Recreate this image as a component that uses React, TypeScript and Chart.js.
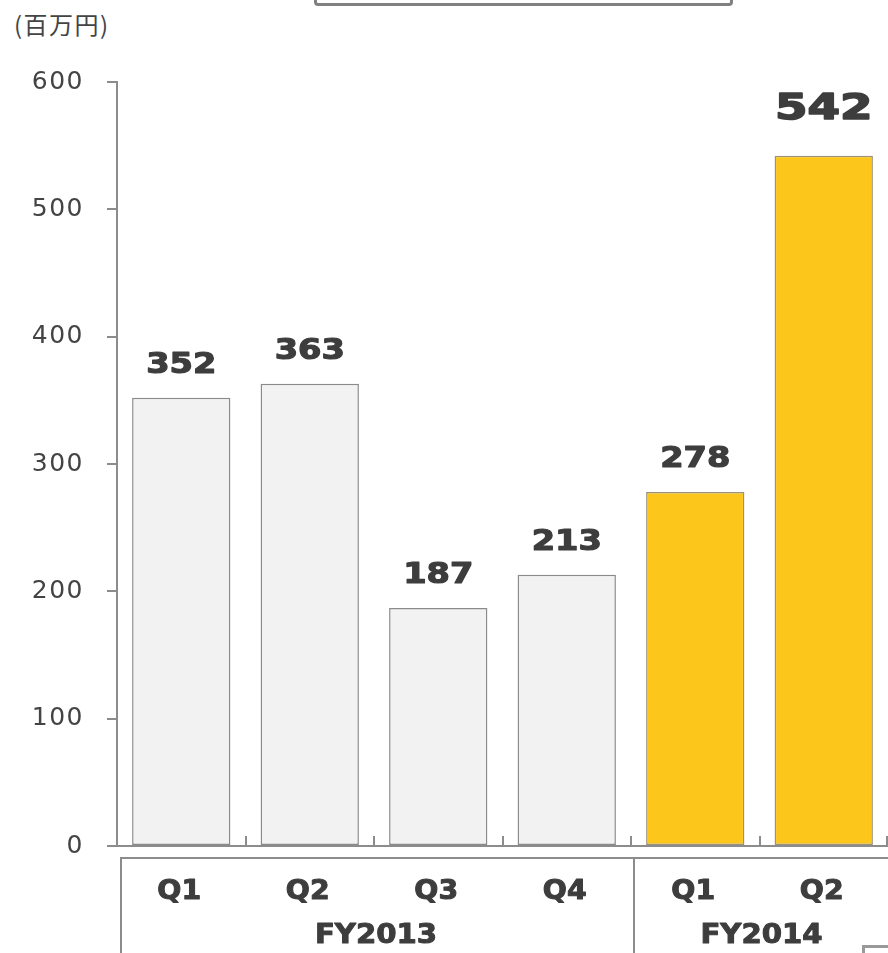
import React, { useEffect, useRef } from "react";
import { Chart, registerables } from "chart.js";

Chart.register(...registerables);

// ---- data ----
const quarterLabels = ["Q1", "Q2", "Q3", "Q4", "Q1", "Q2"];
const fiscalYears = ["FY2013", "FY2014"];
const quartersPerYear = [4, 2];
const revenue = [352, 363, 187, 213, 278, 542];
const highlighted = [false, false, false, false, true, true];
const emphasized = [false, false, false, false, false, true];
const yMin = 0;
const yMax = 600;
const yStep = 100;
const unitLabel = "(百万円)";

const GRAY_FILL = "#f2f2f2";
const YELLOW_FILL = "#fdc61a";
const LINE = "#8c8c8c";
const TEXT = "#3d3d3d";

function drawScaledText(
  ctx: CanvasRenderingContext2D,
  text: string,
  x: number,
  y: number,
  sx: number,
  stroke: number
) {
  ctx.save();
  ctx.translate(x, y);
  ctx.scale(sx, 1);
  if (stroke > 0) {
    ctx.lineWidth = stroke;
    ctx.strokeStyle = ctx.fillStyle as string;
    ctx.lineJoin = "round";
    ctx.strokeText(text, 0, 0);
  }
  ctx.fillText(text, 0, 0);
  ctx.restore();
}

const decorPlugin = {
  id: "decor",
  beforeDraw(chart: any) {
    (chart.ctx as any).letterSpacing = "1.5px";
  },
  beforeDatasetsDraw(chart: any) {
    (chart.ctx as any).letterSpacing = "0px";
  },
  afterDatasetsDraw(chart: any) {
    const ctx: CanvasRenderingContext2D = chart.ctx;
    const meta = chart.getDatasetMeta(0);
    ctx.save();
    ctx.fillStyle = TEXT;
    ctx.textAlign = "center";
    ctx.textBaseline = "alphabetic";
    meta.data.forEach((bar: any, i: number) => {
      const big = emphasized[i];
      ctx.font = big ? "bold 36px 'DejaVu Sans'" : "bold 29px 'DejaVu Sans'";
      drawScaledText(ctx, String(revenue[i]), bar.x, bar.y - (big ? 37 : 25), big ? 1.3 : 1.16, big ? 1.6 : 1.2);
    });
    ctx.restore();
  },
  afterDraw(chart: any) {
    const ctx: CanvasRenderingContext2D = chart.ctx;
    const area = chart.chartArea;
    const x = chart.scales.x;
    const n = quarterLabels.length;
    const step = x.getPixelForValue(1) - x.getPixelForValue(0);
    const boundary = (i: number) => Math.min(x.getPixelForValue(i) - step / 2, area.right - 1);

    ctx.save();
    ctx.strokeStyle = LINE;
    ctx.lineWidth = 2;
    // small upward ticks at category boundaries
    for (let i = 1; i <= n; i++) {
      const bx = Math.round(boundary(i));
      ctx.beginPath();
      ctx.moveTo(bx, area.bottom);
      ctx.lineTo(bx, area.bottom - 10);
      ctx.stroke();
    }
    // table box below axis
    const boxTop = area.bottom + 12;
    const boxBottom = chart.height + 2;
    const boxLeft = Math.round(boundary(0)) + 4;
    ctx.beginPath();
    ctx.moveTo(area.right + 2, boxTop);
    ctx.lineTo(boxLeft, boxTop);
    ctx.lineTo(boxLeft, boxBottom);
    ctx.stroke();
    let start = 0;
    quartersPerYear.forEach((cnt, gi) => {
      const end = start + cnt;
      if (gi > 0) {
        const dx = Math.round(boundary(start)) + 3;
        ctx.beginPath();
        ctx.moveTo(dx, boxTop);
        ctx.lineTo(dx, boxBottom);
        ctx.stroke();
      }
      start = end;
    });

    // quarter labels
    ctx.fillStyle = TEXT;
    ctx.textAlign = "center";
    ctx.textBaseline = "alphabetic";
    ctx.font = "bold 27px 'DejaVu Sans'";
    for (let i = 0; i < n; i++) {
      drawScaledText(ctx, quarterLabels[i], x.getPixelForValue(i) - 2, area.bottom + 53, 1.05, 1);
    }
    // fiscal year labels
    start = 0;
    quartersPerYear.forEach((cnt, gi) => {
      const end = start + cnt;
      const cx = (boundary(start) + (x.getPixelForValue(end - 1) + step / 2)) / 2;
      drawScaledText(ctx, fiscalYears[gi], cx + 2, area.bottom + 97, 1.08, 1);
      start = end;
    });
    ctx.restore();
  },
};

export default function App() {
  const canvasRef = useRef<HTMLCanvasElement | null>(null);

  useEffect(() => {
    if (!canvasRef.current) return;
    const chart = new Chart(canvasRef.current, {
      type: "bar",
      data: {
        labels: quarterLabels,
        datasets: [
          {
            data: revenue,
            backgroundColor: highlighted.map((h) => (h ? YELLOW_FILL : GRAY_FILL)),
            borderColor: highlighted.map((h) => (h ? "#9c9277" : "#8a8a8a")),
            borderWidth: 1.5,
            borderSkipped: false,
            barPercentage: 0.765,
            categoryPercentage: 1,
          },
        ],
      },
      options: {
        animation: false,
        responsive: false,
        devicePixelRatio: 1,
        layout: { padding: { top: 82, bottom: 107, left: 0, right: 0 } },
        plugins: { legend: { display: false }, tooltip: { enabled: false }, title: { display: false } },
        scales: {
          x: {
            offset: true,
            grid: { display: false },
            ticks: { display: false },
            border: { display: true, color: LINE, width: 2 },
            afterFit: (s: any) => {
              s.height = 0;
            },
          },
          y: {
            min: yMin,
            max: yMax,
            ticks: {
              stepSize: yStep,
              padding: 23,
              color: "#444",
              font: { family: "'DejaVu Sans'", size: 25 },
            },
            grid: { drawOnChartArea: false, drawTicks: true, tickLength: 10, color: LINE, lineWidth: 2 },
            border: { display: true, color: LINE, width: 2 },
            afterFit: (s: any) => {
              s.width = 117;
            },
          },
        },
      },
      plugins: [decorPlugin],
    });
    return () => chart.destroy();
  }, []);

  return (
    <div
      style={{
        position: "absolute",
        left: 0,
        top: 0,
        width: 888,
        height: 953,
        overflow: "hidden",
        background: "#fff",
      }}
    >
      <div
        style={{
          position: "absolute",
          left: 314,
          top: -40,
          width: 413,
          height: 40,
          border: "3px solid #808080",
          borderRadius: 4,
        }}
      />
      <span
        style={{
          position: "absolute",
          left: 14,
          top: 8,
          fontFamily: "'Noto Sans CJK JP', sans-serif",
          fontSize: 24,
          color: "#444",
          letterSpacing: 1.5,
          whiteSpace: "nowrap",
          lineHeight: "32px",
        }}
      >
        {unitLabel}
      </span>
      <canvas ref={canvasRef} width={888} height={953} style={{ position: "absolute", left: 0, top: 0 }} />
      <div
        style={{
          position: "absolute",
          left: 862,
          top: 945,
          width: 30,
          height: 20,
          borderTop: "3px solid #999",
          borderLeft: "3px solid #999",
        }}
      />
    </div>
  );
}
